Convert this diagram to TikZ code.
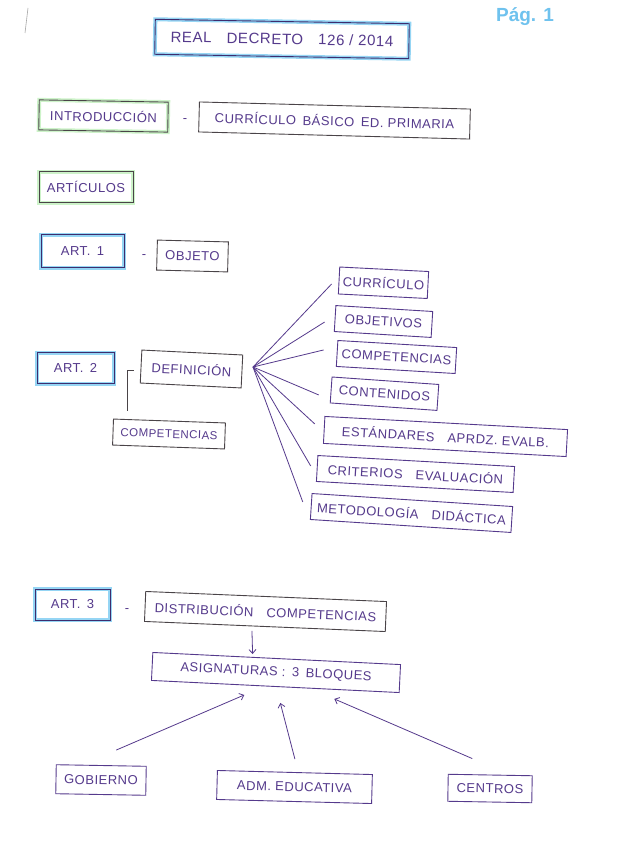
\documentclass[tikz,border=0pt]{standalone}
\usepackage{fontspec}
\setmainfont{Liberation Sans}
\newfontfamily\hand{Liberation Sans}[LetterSpace=4.0]
\usetikzlibrary{arrows.meta,positioning,calc}
\definecolor{inkpurple}{HTML}{553A8C}
\definecolor{inkdark}{HTML}{3E2D6E}
\definecolor{inkgray}{HTML}{4A4448}
\definecolor{glowblue}{HTML}{95D5F4}
\definecolor{glowgreen}{HTML}{CDF3C9}
\definecolor{pageblue}{HTML}{6FC2EE}
\tikzset{
  note/.style={draw=inkgray, line width=0.9pt, text=inkpurple, inner sep=0pt, font=\hand\fontsize{13}{15}\selectfont},
  graynote/.style={note},
  purplenote/.style={note, draw=inkpurple},
  artnote/.style={note, draw=inkdark, preaction={draw=glowblue, line width=4pt}},
  intronote/.style={note, preaction={draw=glowgreen, line width=4pt}},
  fanline/.style={draw=inkpurple, line width=0.8pt},
  graylink/.style={draw=inkgray, line width=0.9pt},
  uparrow/.style={-{Straight Barb[length=4pt,width=7pt]}, draw=inkpurple, line width=0.8pt},
  sep/.style={text=inkpurple, font=\hand\fontsize{13}{15}\selectfont, inner sep=0pt}
}
\begin{document}
\begin{tikzpicture}[x=1pt, y=-1pt]
  \useasboundingbox[fill=white] (0,0) rectangle (617,848);
  \draw[gray!70, line width=0.6pt] (28,8) -- (25,33);
  \node[text=pageblue, font=\bfseries\fontsize{19}{22}\selectfont] (pag) at (525,17) {Pág. 1};
  % cabecera
  \node[note, draw=inkdark, preaction={draw=glowblue, line width=4pt}, minimum width=254pt, minimum height=35pt, rotate=-1, font=\hand\fontsize{15}{17}\selectfont] (rd) at (282,39) {REAL\quad DECRETO\quad 126 / 2014};
  \node[intronote, minimum width=129pt, minimum height=30pt, rotate=-1] (intro) at (103.5,116) {INTRODUCCIÓN};
  \node[sep] (d0) at (185,121) {-};
  \node[graynote, minimum width=271pt, minimum height=30pt, rotate=-1.5] (basico) at (334.5,120.5) {CURRÍCULO\enspace BÁSICO\enspace ED. PRIMARIA};
  \node[intronote, minimum width=94pt, minimum height=31pt] (artic) at (86,187) {ARTÍCULOS};
  % art. 1
  \node[artnote, minimum width=83pt, minimum height=33pt] (art1) at (82.5,251) {ART.\enspace 1};
  \node[sep] (d1) at (144,257) {-};
  \node[graynote, minimum width=71pt, minimum height=30pt, rotate=-1.5] (objeto) at (192.5,256) {OBJETO};
  % art. 2
  \node[artnote, minimum width=77pt, minimum height=31pt] (art2) at (75.5,368) {ART.\enspace 2};
  \node[graynote, minimum width=101pt, minimum height=33pt, rotate=-2.8] (defin) at (191.5,369) {DEFINICIÓN};
  \node[graynote, minimum width=112pt, minimum height=26pt, rotate=-2, font=\hand\fontsize{11.5}{14}\selectfont] (compl) at (169,434) {COMPETENCIAS};
  \node[purplenote, minimum width=89pt, minimum height=27pt, rotate=-2.9] (curr) at (383.5,282.75) {CURRÍCULO};
  \node[purplenote, minimum width=97pt, minimum height=26pt, rotate=-3.5] (objt) at (383.5,321.5) {OBJETIVOS};
  \node[purplenote, minimum width=119pt, minimum height=26pt, rotate=-3.4] (compr) at (396.5,357) {COMPETENCIAS};
  \node[purplenote, minimum width=107pt, minimum height=26pt, rotate=-4] (cont) at (384.5,393.7) {CONTENIDOS};
  \node[purplenote, minimum width=243pt, minimum height=27pt, rotate=-3.1] (estand) at (445.5,436.5) {ESTÁNDARES\quad APRDZ. EVALB.};
  \node[purplenote, minimum width=197pt, minimum height=26pt, rotate=-3.2] (crit) at (415.5,474) {CRITERIOS\quad EVALUACIÓN};
  \node[purplenote, minimum width=201pt, minimum height=26pt, rotate=-3.7] (metod) at (411.5,513) {METODOLOGÍA\quad DIDÁCTICA};
  \coordinate (fan) at (253,367);
  \foreach \b/\dx/\dy in {curr/-7/-3.5, objt/-10/-3.5, compr/-13/3.5, cont/-12/-5, estand/-9/6, crit/-6/2.5, metod/-8/4.5}
    \draw[fanline] (fan) -- ([xshift=\dx pt, yshift=\dy pt]\b.west);
  \draw[graylink] ([xshift=-7pt, yshift=-3.5pt]defin.west) -| ([xshift=-42pt, yshift=10pt]compl.north);
  % art. 3
  \node[artnote, minimum width=75pt, minimum height=31pt] (art3) at (72.5,604.5) {ART.\enspace 3};
  \node[sep] (d3) at (127,611) {-};
  \node[graynote, minimum width=241pt, minimum height=30pt, rotate=-2.4] (distr) at (265.5,611.5) {DISTRIBUCIÓN\quad COMPETENCIAS};
  \node[purplenote, minimum width=248pt, minimum height=28pt, rotate=-2.8] (asig) at (276,672.5) {ASIGNATURAS :\enspace 3\enspace BLOQUES};
  \node[purplenote, minimum width=90pt, minimum height=29pt, rotate=-1] (gob) at (101,780) {GOBIERNO};
  \node[purplenote, minimum width=155pt, minimum height=29pt, rotate=-1.5] (adm) at (294.5,787) {ADM. EDUCATIVA};
  \node[purplenote, minimum width=84pt, minimum height=27pt, rotate=-1] (centros) at (490,788.5) {CENTROS};
  \draw[uparrow, shorten <=4pt, shorten >=4pt] ([xshift=-13pt]distr.south) -- ([xshift=-24pt]asig.north);
  \draw[uparrow] ([xshift=15pt, yshift=15pt]gob.north) -- ([xshift=-31pt, yshift=-8pt]asig.south);
  \draw[uparrow] ([yshift=13pt]adm.north) -- ([xshift=5pt, yshift=-16pt]asig.south);
  \draw[uparrow] ([xshift=-18pt, yshift=16pt]centros.north) -- ([xshift=59pt, yshift=-12pt]asig.south);
\end{tikzpicture}
\end{document}
